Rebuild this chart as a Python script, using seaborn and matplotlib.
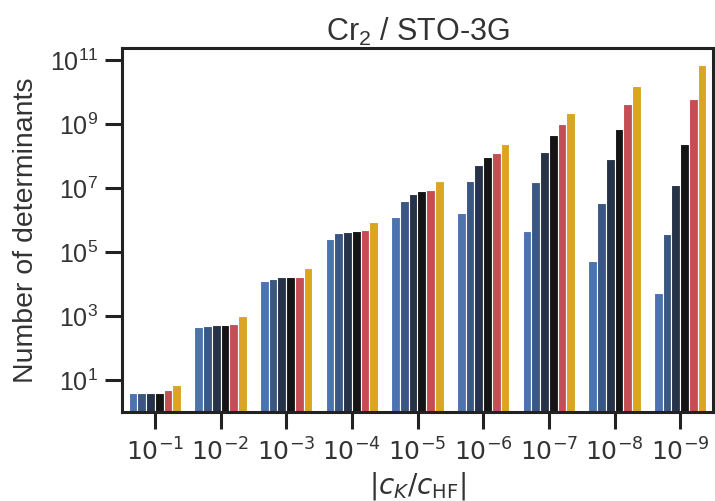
import numpy as np
import pandas as pd
import matplotlib
matplotlib.use("Agg")
import matplotlib.pyplot as plt
import matplotlib.ticker as mticker
import seaborn as sns

# Truncation thresholds |c_K / c_HF|
thresholds = ["$10^{-1}$", "$10^{-2}$", "$10^{-3}$", "$10^{-4}$", "$10^{-5}$",
              "$10^{-6}$", "$10^{-7}$", "$10^{-8}$", "$10^{-9}$"]

# Number of determinants per method (one list per bar colour)
method_a = [4, 464, 12700, 261000, 1.24e6, 1.69e6, 4.64e5, 5.24e4, 5100]
method_b = [4, 487, 14700, 383000, 3.93e6, 1.61e7, 1.54e7, 3.32e6, 3.57e5]
method_c = [4, 511, 16100, 431000, 6.5e6, 5.1e7, 1.33e8, 8.06e7, 1.27e7]
method_d = [4, 511, 16900, 453000, 8.06e6, 9.1e7, 4.43e8, 6.8e8, 2.43e8]
method_e = [5, 550, 16900, 487000, 8.9e6, 1.21e8, 1.0e9, 4.12e9, 5.9e9]
method_f = [7, 1000, 32300, 845000, 1.61e7, 2.32e8, 2.26e9, 1.58e10, 6.8e10]

series = {"a": method_a, "b": method_b, "c": method_c,
          "d": method_d, "e": method_e, "f": method_f}
palette = ["#4C72B0", "#3A5683", "#263248", "#141414", "#C44E52", "#DAA520"]

rows = []
for name, vals in series.items():
    for t, v in zip(thresholds, vals):
        rows.append({"threshold": t, "method": name, "count": v})
df = pd.DataFrame(rows)

sns.set_theme(style="ticks")
plt.rcParams["font.family"] = ["Liberation Sans", "DejaVu Sans"]
plt.rcParams["axes.linewidth"] = 2.2
plt.rcParams["xtick.major.width"] = 2.2
plt.rcParams["ytick.major.width"] = 2.2
plt.rcParams["xtick.major.size"] = 12
plt.rcParams["ytick.major.size"] = 12
plt.rcParams["axes.edgecolor"] = "#222222"

fig = plt.figure(figsize=(7.15, 5.01), dpi=100)
ax = fig.add_axes([122 / 715, 89 / 501, 591 / 715, 364 / 501])

sns.barplot(data=df, x="threshold", y="count", hue="method",
            order=thresholds, hue_order=list(series.keys()),
            palette=palette, saturation=1, width=0.8,
            edgecolor="white", linewidth=0.8, legend=False, ax=ax)

ax.set_yscale("log")
ax.set_ylim(1, 2.37e11)
ax.set_xlim(-0.5, len(thresholds) - 0.5)
ax.yaxis.set_major_locator(mticker.FixedLocator([10.0 ** k for k in (1, 3, 5, 7, 9, 11)]))
ax.yaxis.set_major_formatter(mticker.LogFormatterSciNotation())
ax.yaxis.set_minor_locator(mticker.NullLocator())

ax.tick_params(axis="both", labelsize=18, colors="#222222", labelcolor="#333333")
ax.tick_params(axis="x", pad=7)
ax.tick_params(axis="y", pad=5)
ax.set_xlabel(r"$|c_K/c_{\rm HF}|$", fontsize=20, color="#333333", labelpad=3)
ax.set_ylabel("Number of determinants", fontsize=20.5, color="#333333", labelpad=8)
ax.set_title(r"Cr$_{\mathdefault{2}}$ / STO-3G", fontsize=22, color="#333333", pad=5)

fig.savefig("out.png", dpi=100)
